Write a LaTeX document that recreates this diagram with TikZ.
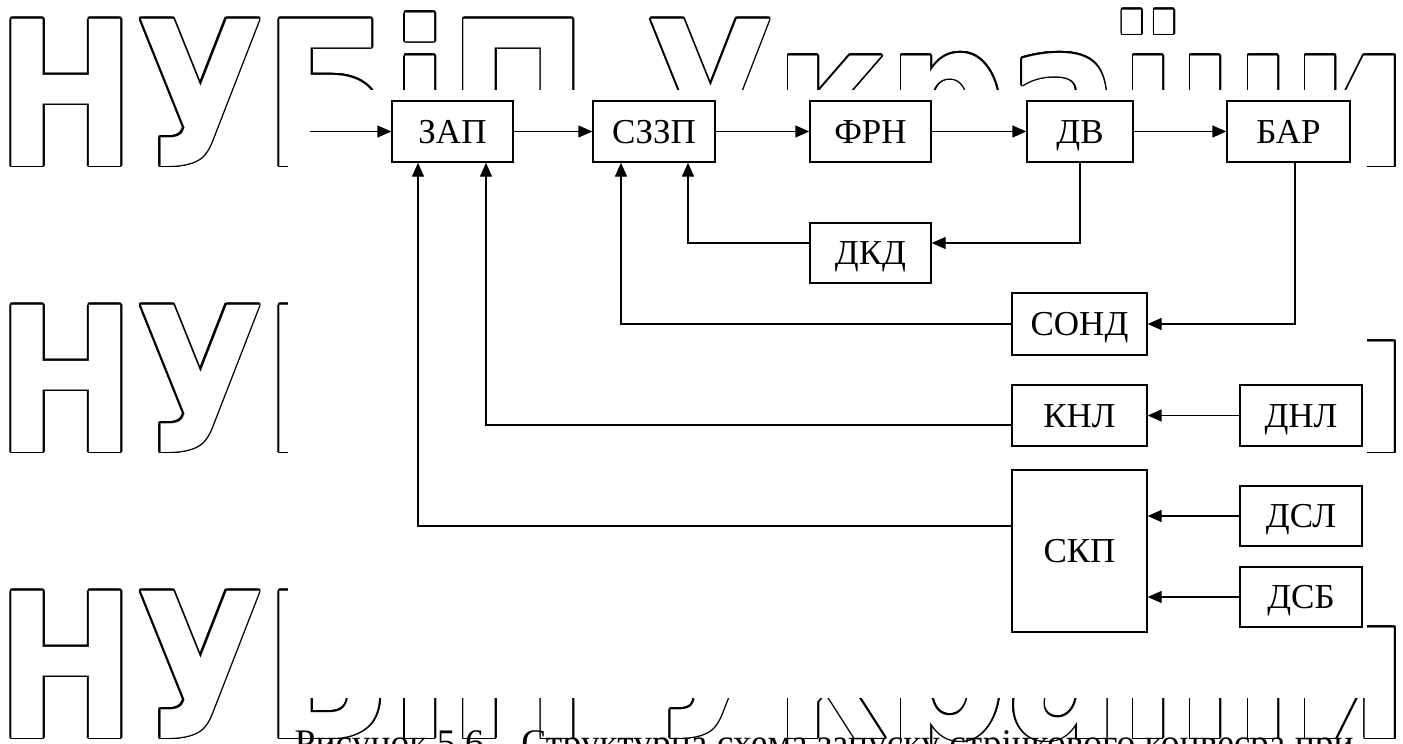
\documentclass[tikz,border=0pt]{standalone}
\usepackage{fontspec}
\setmainfont{Liberation Serif}
\newfontfamily\wmfont{DejaVu Sans}
\usetikzlibrary{arrows.meta}

\begin{document}
\begin{tikzpicture}[x=.5pt,y=-.5pt,line width=.7pt,
  blk/.style={draw,inner sep=0pt,text height=11.6pt,text depth=0pt,font=\fontsize{17.5}{20}\selectfont},
  arr/.style={-{Triangle[length=7pt,width=6pt]}},
  wmark/.style={anchor=base west,inner sep=0pt,xscale=.825,font=\wmfont\bfseries\fontsize{101}{101}\selectfont}]
\path[use as bounding box] (0,0) rectangle (1403,744);
\foreach \y/\n in {166/wma,452/wmb,738/wmc}{
  \foreach \a [count=\i] in {0,22.5,...,337.5}
    \node[wmark,text=black] (\n\i) at ([shift={(\a:1.6)}]-4,\y) {НУБіП України};
  \node[wmark,text=white] (\n) at (-4,\y) {НУБіП України};
}
\node[anchor=base west,inner sep=0pt,font=\fontsize{18.75}{22}\selectfont] (cap) at (294,755) {Рисунок 5.6 – Структурна схема запуску стрічкового конвеєра при};
\fill[white] (288,90) rectangle (1367,698);
\node[blk,minimum width=60.5pt,minimum height=30.5pt] (zap) at (452.5,131.5) {ЗАП};
\node[blk,minimum width=61pt,minimum height=30.5pt] (szzp) at (654,131.5) {СЗЗП};
\node[blk,minimum width=60.5pt,minimum height=30.5pt] (frn) at (870.5,131.5) {ФРН};
\node[blk,minimum width=53pt,minimum height=30.5pt] (dv) at (1080,131.5) {ДВ};
\node[blk,minimum width=61.5pt,minimum height=30.5pt] (bar) at (1288.5,131.5) {БАР};
\node[blk,minimum width=60.5pt,minimum height=30pt] (dkd) at (870.5,253) {ДКД};
\node[blk,minimum width=67.5pt,minimum height=31pt] (sond) at (1079.5,324) {СОНД};
\node[blk,minimum width=67.5pt,minimum height=30.5pt] (knl) at (1079.5,415.5) {КНЛ};
\node[blk,minimum width=61pt,minimum height=30.5pt] (dnl) at (1301,415.5) {ДНЛ};
\node[blk,minimum width=67.5pt,minimum height=81pt] (skp) at (1079.5,551) {СКП};
\node[blk,minimum width=61pt,minimum height=30pt] (dsl) at (1301,516) {ДСЛ};
\node[blk,minimum width=61pt,minimum height=30pt] (dsb) at (1301,597) {ДСБ};
\coordinate (in) at (310,131.5);
\draw[arr] (in) -- (zap);
\draw[arr] (zap) -- (szzp);
\draw[arr] (szzp) -- (frn);
\draw[arr] (frn) -- (dv);
\draw[arr] (dv) -- (bar);
\draw[arr] (dv.south) |- ([yshift=5pt]dkd.east);
\draw[arr] ([yshift=5pt]dkd.west) -| ([xshift=17pt]szzp.south);
\draw[arr] ([xshift=3.25pt]bar.south) |- (sond.east);
\draw[arr] (sond.west) -| ([xshift=-16.5pt]szzp.south);
\draw[arr] (dnl) -- (knl);
\draw[arr] ([yshift=-4.75pt]knl.west) -| ([xshift=16.75pt]zap.south);
\draw[arr] (dsl.west) -- (dsl.west -| skp.east);
\draw[arr] (dsb.west) -- (dsb.west -| skp.east);
\draw[arr] ([yshift=12.5pt]skp.west) -| ([xshift=-17.25pt]zap.south);
\end{tikzpicture}
\end{document}
